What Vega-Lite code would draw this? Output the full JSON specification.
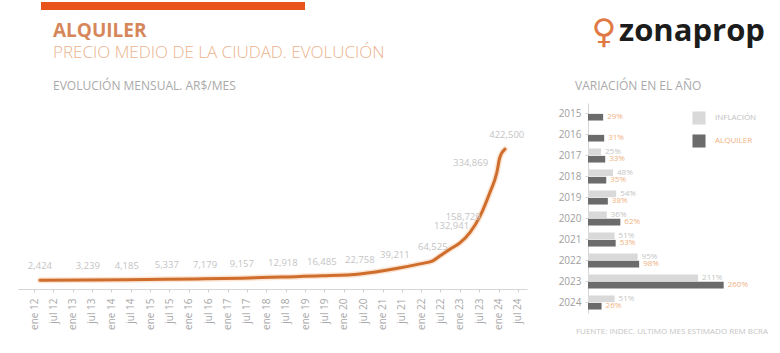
{
  "$schema": "https://vega.github.io/schema/vega-lite/v6.json",
  "background": "white",
  "padding": {"left": 18, "top": 0, "right": 0, "bottom": 0},
  "config": {"font": "Open Sans", "view": {"stroke": null}},
  "datasets": {
    "linea": [
      {"fecha": "2012-02-26", "valor": 2424},
      {"fecha": "2013-05-22", "valor": 3239},
      {"fecha": "2014-05-25", "valor": 4185},
      {"fecha": "2015-06-07", "valor": 5337},
      {"fecha": "2016-06-01", "valor": 7179},
      {"fecha": "2017-05-15", "valor": 9157},
      {"fecha": "2018-06-06", "valor": 12918},
      {"fecha": "2019-06-08", "valor": 16485},
      {"fecha": "2020-06-01", "valor": 22758},
      {"fecha": "2021-04-28", "valor": 39211},
      {"fecha": "2021-12-20", "valor": 55000},
      {"fecha": "2022-04-20", "valor": 64525},
      {"fecha": "2022-06-25", "valor": 80000},
      {"fecha": "2022-09-28", "valor": 102000},
      {"fecha": "2023-01-01", "valor": 122000},
      {"fecha": "2023-04-05", "valor": 155000},
      {"fecha": "2023-07-10", "valor": 208000},
      {"fecha": "2023-10-10", "valor": 283000},
      {"fecha": "2023-12-15", "valor": 347000},
      {"fecha": "2024-01-12", "valor": 395000},
      {"fecha": "2024-03-01", "valor": 422500}
    ],
    "etiquetas": [
      {"fecha": "2012-02-26", "valor": 2424},
      {"fecha": "2013-05-22", "valor": 3239},
      {"fecha": "2014-05-25", "valor": 4185},
      {"fecha": "2015-06-07", "valor": 5337},
      {"fecha": "2016-06-01", "valor": 7179},
      {"fecha": "2017-05-15", "valor": 9157},
      {"fecha": "2018-06-06", "valor": 12918},
      {"fecha": "2019-06-08", "valor": 16485},
      {"fecha": "2020-06-01", "valor": 22758},
      {"fecha": "2021-04-28", "valor": 39211},
      {"fecha": "2022-04-20", "valor": 64525},
      {"fecha": "2022-10-15", "valor": 132941},
      {"fecha": "2023-02-01", "valor": 158729},
      {"fecha": "2023-04-12", "valor": 334869},
      {"fecha": "2024-03-18", "valor": 422500}
    ],
    "variacion": [
      {"anio": "2015", "serie": "ALQUILER", "pct": 29},
      {"anio": "2016", "serie": "ALQUILER", "pct": 31},
      {"anio": "2017", "serie": "INFLACIÓN", "pct": 25},
      {"anio": "2017", "serie": "ALQUILER", "pct": 33},
      {"anio": "2018", "serie": "INFLACIÓN", "pct": 48},
      {"anio": "2018", "serie": "ALQUILER", "pct": 35},
      {"anio": "2019", "serie": "INFLACIÓN", "pct": 54},
      {"anio": "2019", "serie": "ALQUILER", "pct": 38},
      {"anio": "2020", "serie": "INFLACIÓN", "pct": 36},
      {"anio": "2020", "serie": "ALQUILER", "pct": 62},
      {"anio": "2021", "serie": "INFLACIÓN", "pct": 51},
      {"anio": "2021", "serie": "ALQUILER", "pct": 53},
      {"anio": "2022", "serie": "INFLACIÓN", "pct": 95},
      {"anio": "2022", "serie": "ALQUILER", "pct": 98},
      {"anio": "2023", "serie": "INFLACIÓN", "pct": 211},
      {"anio": "2023", "serie": "ALQUILER", "pct": 260},
      {"anio": "2024", "serie": "INFLACIÓN", "pct": 51},
      {"anio": "2024", "serie": "ALQUILER", "pct": 26}
    ]
  },
  "bounds": "flush",
  "spacing": 101,
  "vconcat": [
    {
      "bounds": "flush",
      "spacing": 0,
      "hconcat": [
        {"width": 23, "height": 8, "data": {"values": [{}]}, "mark": {"type": "text", "text": ""}, "encoding": {}},
        {
          "width": 264, "height": 8,
          "view": {"fill": "#e8541c", "stroke": null},
          "data": {"values": [{}]},
          "mark": {"type": "text", "text": ""},
          "encoding": {},
          "title": {
            "text": "ALQUILER",
            "subtitle": "PRECIO MEDIO DE LA CIUDAD. EVOLUCIÓN",
            "orient": "bottom", "anchor": "start", "dx": 12, "offset": 11,
            "font": "Open Sans", "fontSize": 19, "fontWeight": "bold", "color": "#d6875a",
            "subtitleFont": "Open Sans", "subtitleFontSize": 17, "subtitleFontWeight": 300,
            "subtitleColor": "#ebb38e", "subtitlePadding": 4
          }
        },
        {"width": 292, "height": 8, "data": {"values": [{}]}, "mark": {"type": "text", "text": ""}, "encoding": {}},
        {
          "width": 170, "height": 8,
          "data": {"values": [{}]},
          "layer": [
            {"mark": {"type": "text", "text": "♀", "font": "DejaVu Sans", "fontSize": 34, "color": "#e07a45", "align": "center", "baseline": "alphabetic", "dx": -78, "dy": 37}, "encoding": {}},
            {"mark": {"type": "text", "text": "zonaprop", "font": "Open Sans", "fontWeight": "bold", "fontSize": 31, "color": "#1c1c1c", "align": "center", "baseline": "alphabetic", "dx": 10, "dy": 35}, "encoding": {}}
          ]
        }
      ]
    },
    {
      "bounds": "flush",
      "spacing": 61,
      "hconcat": [
        {
          "width": 509, "height": 186,
          "title": {"text": "EVOLUCIÓN MENSUAL. AR$/MES", "anchor": "start", "frame": "group", "dx": 35, "offset": 10, "fontSize": 12, "fontWeight": "normal", "color": "#aaaaaa"},
          "encoding": {
            "x": {
              "field": "fecha", "type": "temporal",
              "scale": {"type": "utc", "domain": [{"year": 2011, "month": 8, "date": 3, "utc": true}, {"year": 2024, "month": 9, "date": 25, "utc": true}]},
              "axis": {
                "title": null, "grid": false,
                "tickCount": {"interval": "month", "step": 6},
                "labelExpr": "(utcmonth(datum.value) == 0 ? 'ene ' : 'jul ') + utcFormat(datum.value, '%y')",
                "labelAngle": -90, "labelFontSize": 10, "labelColor": "#a8a8a8", "labelPadding": 6,
                "labelOverlap": false, "labelFlush": false,
                "tickSize": 3, "tickColor": "#d0d0d0", "domainColor": "#d5d5d5"
              }
            },
            "y": {"field": "valor", "type": "quantitative", "scale": {"domain": [-25600, 570560], "nice": false, "zero": false}, "axis": null}
          },
          "layer": [
            {"data": {"name": "linea"}, "mark": {"type": "line", "interpolate": "monotone", "color": "#f7c6a0", "strokeWidth": 6, "opacity": 0.45, "strokeCap": "round"}},
            {"data": {"name": "linea"}, "mark": {"type": "line", "interpolate": "monotone", "color": "#cf6d2d", "strokeWidth": 3, "strokeCap": "round"}},
            {"data": {"name": "etiquetas"}, "mark": {"type": "text", "dy": -14, "fontSize": 9.5, "color": "#c4c4c4"}, "encoding": {"text": {"field": "valor", "type": "quantitative", "format": ",d"}}}
          ]
        },
        {
          "width": 167, "height": 210,
          "data": {"name": "variacion"},
          "title": {"text": "VARIACIÓN EN EL AÑO", "anchor": "start", "frame": "group", "dx": -13, "offset": 10, "fontSize": 12, "fontWeight": "normal", "color": "#aaaaaa"},
          "encoding": {
            "y": {"field": "anio", "type": "nominal", "scale": {"paddingInner": 0.33, "paddingOuter": 0.165},
                  "axis": {"title": null, "labelFontSize": 10, "labelColor": "#a0a0a0", "domainColor": "#d5d5d5", "tickColor": "#d5d5d5", "tickSize": 3, "labelPadding": 4}},
            "yOffset": {"field": "serie", "type": "nominal", "scale": {"domain": ["INFLACIÓN", "ALQUILER"], "paddingInner": 0.1}},
            "x": {"field": "pct", "type": "quantitative", "scale": {"domain": [0, 320], "nice": false},
                  "axis": {"title": "FUENTE: INDEC. ULTIMO MES ESTIMADO REM BCRA", "labels": false, "ticks": false, "domain": false, "grid": false,
                           "titleFontSize": 8, "titleFontWeight": "normal", "titleColor": "#c4c4c4", "titlePadding": 14}}
          },
          "layer": [
            {
              "mark": {"type": "bar"},
              "encoding": {
                "color": {"field": "serie", "type": "nominal",
                          "scale": {"domain": ["INFLACIÓN", "ALQUILER"], "range": ["#d9d9d9", "#6b6b6b"]},
                          "legend": {"title": null, "orient": "none", "legendX": 674, "legendY": 109, "symbolType": "square", "symbolSize": 170,
                                     "symbolStrokeWidth": 0, "labelFontSize": 8, "labelOffset": 9, "rowPadding": 9, "padding": 0,
                                     "labelColor": {"expr": "datum.label == 'ALQUILER' ? '#f0b27f' : '#c0c0c0'"}}}
              }
            },
            {
              "mark": {"type": "text", "align": "left", "baseline": "middle", "dx": 4, "fontSize": 8, "text": {"expr": "datum.pct + '%'"}},
              "encoding": {"color": {"condition": {"test": "datum.serie == 'ALQUILER'", "value": "#f0b27f"}, "value": "#c4c4c4"}}
            }
          ]
        }
      ]
    }
  ]
}
